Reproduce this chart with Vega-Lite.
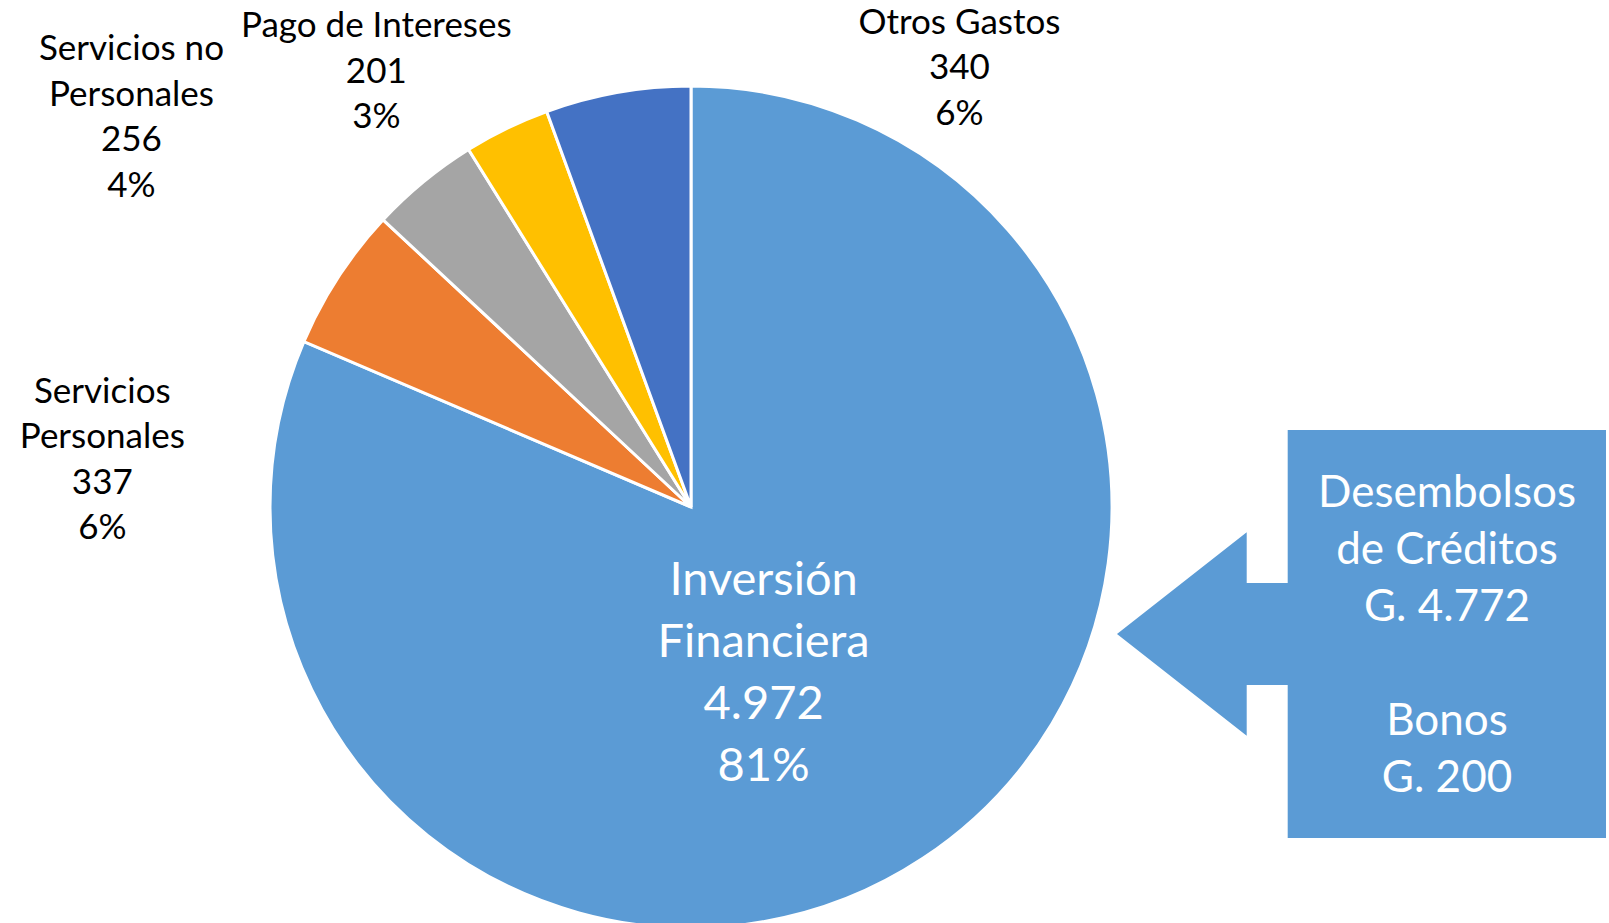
{
  "$schema": "https://vega.github.io/schema/vega-lite/v6.json",
  "autosize": {"type": "none"},
  "padding": {"left": 0, "top": 91, "right": 227, "bottom": 0},
  "width": 1382,
  "height": 832,
  "background": "white",
  "config": {"view": {"stroke": null}, "font": "Lato"},
  "datasets": {
    "gastos": [
      {"categoria": "Inversión Financiera", "orden": 1, "valor": 4972, "etiqueta": ["Inversión", "Financiera", "4.972", "81%"]},
      {"categoria": "Servicios Personales", "orden": 2, "valor": 337, "etiqueta": ["Servicios", "Personales", "337", "6%"]},
      {"categoria": "Servicios no Personales", "orden": 3, "valor": 256, "etiqueta": ["Servicios no", "Personales", "256", "4%"]},
      {"categoria": "Pago de Intereses", "orden": 4, "valor": 201, "etiqueta": ["Pago de Intereses", "201", "3%"]},
      {"categoria": "Otros Gastos", "orden": 5, "valor": 340, "etiqueta": ["Otros Gastos", "340", "6%"]}
    ],
    "desglose": [
      {"concepto": "Desembolsos de Créditos", "monto": 4772, "lineas": ["Desembolsos", "de Créditos", "G. 4.772"]},
      {"concepto": "Bonos", "monto": 200, "lineas": ["Bonos", "G. 200"]}
    ]
  },
  "layer": [
    {
      "data": {"name": "gastos"},
      "mark": {"type": "arc", "outerRadius": 421, "stroke": "white", "strokeWidth": 3},
      "encoding": {
        "theta": {"field": "valor", "type": "quantitative", "stack": true},
        "order": {"field": "orden", "type": "quantitative"},
        "color": {
          "field": "categoria",
          "type": "nominal",
          "scale": {
            "domain": ["Inversión Financiera", "Servicios Personales", "Servicios no Personales", "Pago de Intereses", "Otros Gastos"],
            "range": ["#5B9BD5", "#ED7D31", "#A5A5A5", "#FFC000", "#4472C4"]
          },
          "legend": null
        }
      }
    },
    {
      "data": {"name": "gastos"},
      "mark": {"type": "text", "radius": 130, "dx": 1, "dy": -20, "fill": "white", "fontSize": 47, "lineHeight": 62, "align": "center", "baseline": "alphabetic"},
      "encoding": {
        "theta": {"field": "valor", "type": "quantitative", "stack": true},
        "order": {"field": "orden", "type": "quantitative"},
        "text": {"condition": {"test": "datum.orden == 1", "field": "etiqueta"}, "value": ""}
      }
    },
    {
      "data": {"name": "gastos"},
      "mark": {
        "type": "text", "radius": 440, "fill": "black", "fontSize": 35, "lineHeight": 45.5, "align": "center", "baseline": "alphabetic",
        "dx": {"expr": "datum.orden == 2 ? -220 : datum.orden == 3 ? -280 : datum.orden == 4 ? -122 : 345"},
        "dy": {"expr": "datum.orden == 2 ? 136 : datum.orden == 3 ? -107 : datum.orden == 4 ? -74 : -40"}
      },
      "encoding": {
        "theta": {"field": "valor", "type": "quantitative", "stack": true},
        "order": {"field": "orden", "type": "quantitative"},
        "text": {"condition": {"test": "datum.orden != 1", "field": "etiqueta"}, "value": ""}
      }
    },
    {
      "data": {"name": "desglose"},
      "transform": [{"filter": "datum.monto == 4772"}],
      "mark": {
        "type": "point",
        "shape": "M1.7423,0.5194L2.2728,0.1034L2.2728,0.3108L2.4405,0.3108L2.4405,-0.315L3.7423,-0.315L3.7423,1.3538L2.4405,1.3538L2.4405,0.728L2.2728,0.728L2.2728,0.9354Z",
        "size": 239121, "filled": true, "fill": "#5B9BD5", "opacity": 1, "strokeWidth": 0
      },
      "encoding": {}
    },
    {
      "data": {"name": "desglose"},
      "mark": {
        "type": "text", "dx": 756, "fill": "white", "fontSize": 44, "lineHeight": 57, "align": "center", "baseline": "alphabetic",
        "dy": {"expr": "datum.monto == 4772 ? 0 : 228"}
      },
      "encoding": {
        "text": {"field": "lineas", "type": "nominal"}
      }
    }
  ]
}
